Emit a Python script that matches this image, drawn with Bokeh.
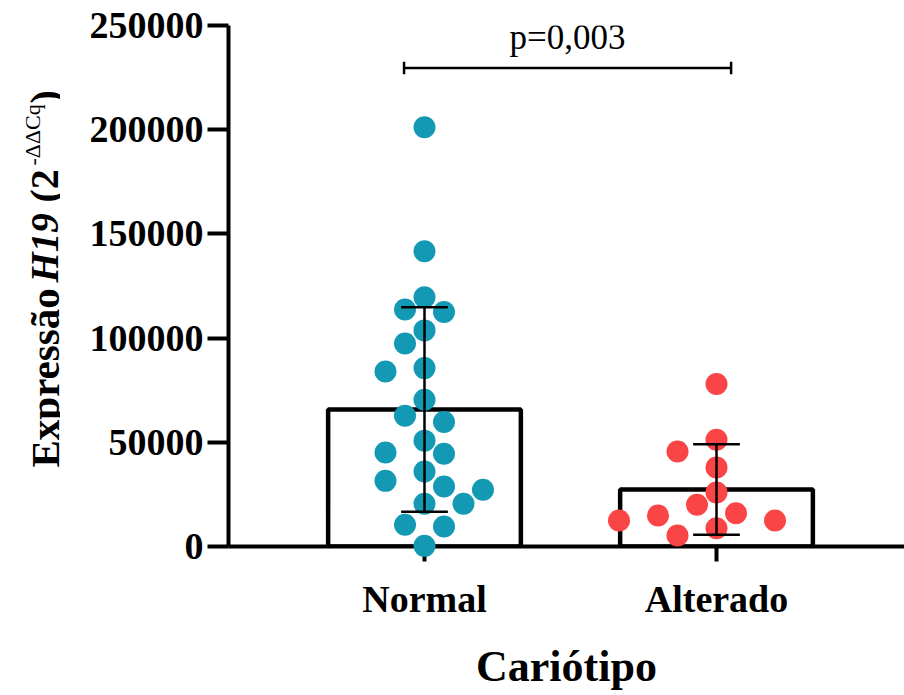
import numpy as np
from bokeh.plotting import figure
from bokeh.layouts import row
from bokeh.models import Range1d, FixedTicker, BasicTickFormatter, Label
from bokeh.embed import file_html
from bokeh.resources import INLINE

# --- data -------------------------------------------------------------
categories = ["Normal", "Alterado"]
normal = [201200, 141700, 119600, 113700, 112500, 103700, 97400, 85600,
          84000, 70400, 62700, 59700, 50800, 45100, 44500, 36000, 31500,
          28800, 27200, 20500, 20500, 10400, 9600, 300]
alterado = [77950, 51200, 45600, 37900, 25900, 20000, 16000, 14900,
            12500, 12500, 8800, 5300]
group_colors = ["#1399B4", "#F94545"]
y_ticks = [0, 50000, 100000, 150000, 200000, 250000]
p_label = "p=0,003"
x_title = "Cariótipo"

# --- layout -----------------------------------------------------------
W, H = 904, 695
TITLE_W = 60                      # strip holding the rotated y title
MAIN_W = W - TITLE_W
LEFT, TOP, BOTTOM = 168, 25, 149
X0, X1 = 0.3288, 2.6438
Y0, Y1 = 0, 250000
FONT = "Liberation Serif"

xpx = (MAIN_W - LEFT) / (X1 - X0)      # pixels per x unit
ypx = (H - TOP - BOTTOM) / (Y1 - Y0)   # pixels per y unit


def swarm(vals, step=19.5, dmin=23.0):
    """Greedy column swarm: each point takes the nearest free column."""
    vals = np.asarray(vals, dtype=float)
    order = np.argsort(vals)[::-1]
    cand = [0]
    for j in range(1, 30):
        cand += [-j, j]
    placed = []
    offs = np.zeros(len(vals))
    for i in order:
        y = vals[i] * ypx
        for c in cand:
            dx = c * step
            if all(np.hypot(dx - qx, y - qy) >= dmin for qx, qy in placed):
                break
        placed.append((dx, y))
        offs[i] = dx / xpx
    return offs


groups = [np.array(normal, float), np.array(alterado, float)]
centers = np.arange(1, len(categories) + 1, dtype=float)
means = np.array([g.mean() for g in groups])
sds = np.array([g.std(ddof=1) for g in groups])

p = figure(width=MAIN_W, height=H, output_backend="svg", toolbar_location=None,
           x_range=Range1d(X0, X1), y_range=Range1d(Y0, Y1),
           min_border_left=LEFT, min_border_right=0,
           min_border_top=TOP, min_border_bottom=BOTTOM)
p.outline_line_color = None
p.xgrid.visible = False
p.ygrid.visible = False
p.background_fill_color = "white"
p.border_fill_color = "white"

# bars (group means)
p.vbar(x=centers, top=means, width=0.66, fill_color="white",
       line_color="black", line_width=4.5)

# individual samples
for g, c, col in zip(groups, centers, group_colors):
    r = p.scatter(x=c + swarm(g), y=g, size=22, fill_color=col,
                  line_color=None)
    r.level = "overlay"

# error bars (mean +/- SD)
lo, hi = means - sds, means + sds
cap = 0.08
for y0_, y1_, x0_, x1_ in [(lo, hi, centers, centers),
                           (hi, hi, centers - cap, centers + cap),
                           (lo, lo, centers - cap, centers + cap)]:
    e = p.segment(x0=x0_, y0=y0_, x1=x1_, y1=y1_, line_color="black",
                  line_width=2.5)
    e.level = "overlay"

# significance bracket
br_y = 229600
br_x0, br_x1 = 0.93, 2.05
tick = 3000
p.segment(x0=[br_x0, br_x0, br_x1], y0=[br_y, br_y - tick, br_y - tick],
          x1=[br_x1, br_x0, br_x1], y1=[br_y, br_y + tick, br_y + tick],
          line_color="black", line_width=2.5)
p.add_layout(Label(x=(br_x0 + br_x1) / 2, y=br_y + 14600, text=p_label,
                   text_align="center", text_baseline="alphabetic",
                   text_font=FONT, text_font_size="35px",
                   text_color="black"))

# axes
for ax in (p.xaxis[0], p.yaxis[0]):
    ax.axis_line_width = 4
    ax.axis_line_color = "black"
    ax.major_tick_line_width = 4
    ax.major_tick_line_color = "black"
    ax.major_tick_in = 0
    ax.minor_tick_in = 0
    ax.minor_tick_out = 0
    ax.major_label_text_font = FONT
    ax.major_label_text_font_style = "bold"
    ax.major_label_text_font_size = "38px"
    ax.major_label_text_color = "black"

yax = p.yaxis[0]
yax.ticker = FixedTicker(ticks=y_ticks)
yax.formatter = BasicTickFormatter(use_scientific=False)
yax.major_tick_out = 21
yax.major_label_standoff = 4

xax = p.xaxis[0]
xax.ticker = FixedTicker(ticks=list(centers))
xax.major_label_overrides = {float(c): n for c, n in zip(centers, categories)}
xax.major_tick_out = 15
xax.major_label_standoff = 16
xax.axis_label = x_title
xax.axis_label_text_font = FONT
xax.axis_label_text_font_style = "bold"
xax.axis_label_text_font_size = "44px"
xax.axis_label_text_color = "black"
xax.axis_label_standoff = 19

# y-axis title strip, built from pieces (italic gene name, superscript).
# Its frame lines up with the main frame, so its y range is given in
# canvas pixel rows counted from the bottom edge.
t = figure(width=TITLE_W, height=H, output_backend="svg",
           toolbar_location=None, x_range=Range1d(0, TITLE_W),
           y_range=Range1d(BOTTOM, H - TOP), x_axis_type=None,
           y_axis_type=None, min_border_left=0, min_border_right=0,
           min_border_top=TOP, min_border_bottom=BOTTOM)
t.outline_line_color = None
t.xgrid.visible = False
t.ygrid.visible = False

y_title = [
    ("Expressão", 44, 467, "bold", "41px"),
    ("H19", 44, 282, "bold italic", "39px"),
    ("(2", 44, 202, "bold", "40px"),
    ("-ΔΔCq", 32, 165, "normal", "22px"),
    (")", 44, 103, "bold", "40px"),
]
for txt, px, py, style, size in y_title:
    t.add_layout(Label(x=px, y=H - py, text=txt, angle=np.pi / 2,
                       text_align="left", text_baseline="alphabetic",
                       text_font=FONT, text_font_style=style,
                       text_font_size=size, text_color="black"))

layout = row(t, p, spacing=0)
open("out.html", "w").write(file_html(layout, INLINE))
